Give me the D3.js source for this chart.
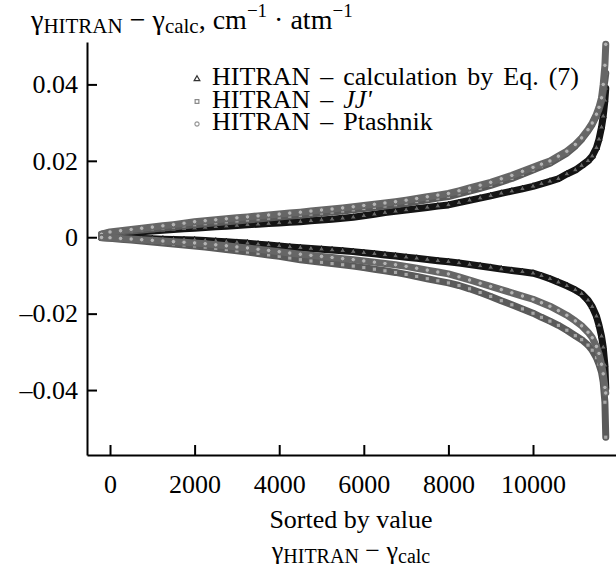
<!DOCTYPE html>
<html>
<head>
<meta charset="utf-8">
<script src="https://cdn.jsdelivr.net/npm/d3@7"></script>
<style>
body { margin: 0; background: #fff; }
text { font-family: "Liberation Serif", "Times New Roman", serif; fill: #000; }
</style>
</head>
<body>
<div id="chart-area"></div>
<script>
// ---- data (sorted differences, cm-1 atm-1) ----
var sortIdx = [-200, 0, 250, 500, 750, 1000, 1250, 1500, 1750, 2000,
  2250, 2500, 2750, 3000, 3250, 3500, 3750, 4000,
  4250, 4500, 4750, 5000, 5250, 5500, 5750, 6000,
  6250, 6500, 6750, 7000, 7250, 7500, 7750, 8000,
  8250, 8500, 8750, 9000, 9250, 9500, 9750, 10000,
  10200, 10400, 10600, 10800, 11000,
  11150, 11300, 11400, 11500, 11560, 11620, 11660, 11700, 11720];

var calcUpper = [0.00052, 0.00079, 0.00099, 0.00120, 0.00141, 0.00162, 0.00181, 0.00202, 0.00220, 0.00238,
  0.00256, 0.00275, 0.00290, 0.00306, 0.00325, 0.00340, 0.00356, 0.00374,
  0.00390, 0.00406, 0.00429, 0.00450, 0.00471, 0.00495, 0.00523, 0.00560,
  0.00602, 0.00644, 0.00678, 0.00712, 0.00746, 0.00780, 0.00814, 0.00845,
  0.00905, 0.00966, 0.01023, 0.01083, 0.01149, 0.01206, 0.01267, 0.01332,
  0.01398, 0.01463, 0.01531, 0.01654, 0.01759,
  0.01874, 0.01999, 0.02122, 0.02342, 0.02565, 0.02879, 0.03167, 0.03585, 0.03900];
var calcLower = [-0.00005, -0.00013, -0.00021, -0.00026, -0.00034, -0.00042, -0.00050, -0.00058, -0.00065, -0.00073,
  -0.00086, -0.00102, -0.00120, -0.00136, -0.00154, -0.00181, -0.00204, -0.00228,
  -0.00254, -0.00275, -0.00296, -0.00314, -0.00335, -0.00353, -0.00377, -0.00406,
  -0.00434, -0.00463, -0.00492, -0.00523, -0.00552, -0.00584, -0.00615, -0.00641,
  -0.00675, -0.00714, -0.00751, -0.00790, -0.00835, -0.00869, -0.00905, -0.00942,
  -0.01008, -0.01089, -0.01178, -0.01272, -0.01379,
  -0.01479, -0.01649, -0.01819, -0.02067, -0.02303, -0.02591, -0.02880, -0.03350, -0.03950];

var jjUpper = [0.00078, 0.00118, 0.00141, 0.00165, 0.00191, 0.00215, 0.00243, 0.00270, 0.00298, 0.00327,
  0.00353, 0.00377, 0.00403, 0.00427, 0.00453, 0.00479, 0.00502, 0.00526,
  0.00552, 0.00576, 0.00605, 0.00633, 0.00659, 0.00688, 0.00717, 0.00751,
  0.00782, 0.00817, 0.00851, 0.00890, 0.00934, 0.00979, 0.01023, 0.01065,
  0.01136, 0.01209, 0.01282, 0.01358, 0.01450, 0.01539, 0.01649, 0.01759,
  0.01848, 0.01937, 0.02067, 0.02201, 0.02389,
  0.02565, 0.02784, 0.02957, 0.03182, 0.03339, 0.03559, 0.03821, 0.04109, 0.04290];
var jjLower = [-0.00013, -0.00026, -0.00050, -0.00073, -0.00097, -0.00123, -0.00149, -0.00175, -0.00204, -0.00230,
  -0.00259, -0.00290, -0.00324, -0.00356, -0.00390, -0.00427, -0.00463, -0.00500,
  -0.00544, -0.00589, -0.00623, -0.00657, -0.00691, -0.00722, -0.00756, -0.00796,
  -0.00837, -0.00879, -0.00921, -0.00973, -0.01028, -0.01086, -0.01141, -0.01196,
  -0.01264, -0.01350, -0.01447, -0.01549, -0.01662, -0.01769, -0.01876, -0.01989,
  -0.02096, -0.02196, -0.02306, -0.02434, -0.02578,
  -0.02682, -0.02824, -0.02957, -0.03153, -0.03324, -0.03533, -0.03795, -0.04318, -0.05234];

var ptUpper = [0.00078, 0.00138, 0.00171, 0.00205, 0.00236, 0.00265, 0.00298, 0.00330, 0.00368, 0.00407,
  0.00433, 0.00457, 0.00483, 0.00507, 0.00533, 0.00559, 0.00582, 0.00606,
  0.00632, 0.00656, 0.00685, 0.00713, 0.00739, 0.00768, 0.00797, 0.00831,
  0.00862, 0.00897, 0.00931, 0.00970, 0.01014, 0.01059, 0.01103, 0.01145,
  0.01216, 0.01289, 0.01362, 0.01438, 0.01530, 0.01619, 0.01724, 0.01829,
  0.01913, 0.01997, 0.02122, 0.02251, 0.02429,
  0.02600, 0.02814, 0.02990, 0.03220, 0.03400, 0.03650, 0.04000, 0.04500, 0.05050];
var ptLower = [-0.00005, -0.00013, -0.00031, -0.00047, -0.00065, -0.00081, -0.00099, -0.00115, -0.00131, -0.00149,
  -0.00170, -0.00199, -0.00225, -0.00254, -0.00280, -0.00314, -0.00345, -0.00379,
  -0.00413, -0.00445, -0.00474, -0.00502, -0.00531, -0.00560, -0.00586, -0.00620,
  -0.00652, -0.00686, -0.00720, -0.00762, -0.00811, -0.00861, -0.00911, -0.00960,
  -0.01036, -0.01120, -0.01204, -0.01288, -0.01371, -0.01455, -0.01539, -0.01623,
  -0.01714, -0.01806, -0.01921, -0.02041, -0.02190,
  -0.02319, -0.02486, -0.02630, -0.02858, -0.03041, -0.03324, -0.03575, -0.03931, -0.04077];

var xTicks = [0, 2000, 4000, 6000, 8000, 10000];
var xTickLabels = ["0", "2000", "4000", "6000", "8000", "10000"];
var yTicks = [-0.04, -0.02, 0, 0.02, 0.04];
var yTickLabels = ["\u20130.04", "\u20130.02", "0", "0.02", "0.04"];

//------------------------------------------------------------
var W = 616, H = 572;
var FONT = 26;
var SERIF = "'Liberation Serif', 'Times New Roman', serif";

var svg = d3.select("#chart-area")
    .append("svg")
    .attr("width", W)
    .attr("height", H)
    .attr("font-family", SERIF);

var x = d3.scaleLinear().domain([-544, 11962]).range([87, 616]);
var y = d3.scaleLinear().domain([-0.0570, 0.0511]).range([455, 42]);

var series = [
    { key: "calc", upper: calcUpper, lower: calcLower, color: "#141414", fill: "#6a6a6a", symbol: d3.symbolTriangle, size: 16 },
    { key: "jj",   upper: jjUpper,   lower: jjLower,   color: "#5a5a5a", fill: "#a8a8a8", symbol: d3.symbolSquare,   size: 18 },
    { key: "pt",   upper: ptUpper,   lower: ptLower,   color: "#666666", fill: "#b4b4b4", symbol: d3.symbolCircle,   size: 16 }
];

var band = d3.line()
    .x(function(d){ return x(d.i); })
    .y(function(d){ return y(d.v); });

var plot = svg.append("g").attr("class", "plot");

series.forEach(function(s){
    [s.upper, s.lower].forEach(function(vals){
        var pts = sortIdx.map(function(idx, k){ return { i: idx, v: vals[k] }; });
        var grp = plot.append("g").attr("class", "series " + s.key);
        grp.append("path")
            .datum(pts)
            .attr("d", band)
            .attr("fill", "none")
            .attr("stroke", s.color)
            .attr("stroke-width", 7)
            .attr("stroke-linejoin", "round")
            .attr("stroke-linecap", "round");
        grp.selectAll("path.pt")
            .data(pts)
            .enter()
            .append("path")
            .attr("class", "pt")
            .attr("d", d3.symbol().type(s.symbol).size(s.size))
            .attr("transform", function(d){ return "translate(" + x(d.i) + "," + y(d.v) + ")"; })
            .attr("fill", s.fill)
            .attr("stroke", s.color)
            .attr("stroke-width", 1);
    });
});

// axes
var xAxis = svg.append("g")
    .attr("class", "x axis")
    .attr("transform", "translate(0,455)")
    .call(d3.axisBottom(x)
        .tickValues(xTicks)
        .tickFormat(function(d, i){ return xTickLabels[i]; })
        .tickSizeInner(-10)
        .tickSizeOuter(0)
        .tickPadding(20));

var yAxis = svg.append("g")
    .attr("class", "y axis")
    .attr("transform", "translate(87,0)")
    .call(d3.axisLeft(y)
        .tickValues(yTicks)
        .tickFormat(function(d, i){ return yTickLabels[i]; })
        .tickSizeInner(-10)
        .tickSizeOuter(0)
        .tickPadding(9));

svg.selectAll(".axis")
    .attr("font-family", SERIF)
    .attr("font-size", FONT);
svg.selectAll(".axis path, .axis line")
    .attr("stroke", "#000")
    .attr("stroke-width", 2);
svg.selectAll(".axis text").attr("fill", "#000");

// y-axis title
var yt = svg.append("text")
    .attr("x", 31)
    .attr("y", 29)
    .attr("font-size", 28);
yt.append("tspan").text("\u03b3");
yt.append("tspan").attr("font-size", 21).attr("dy", 4).text("HITRAN");
yt.append("tspan").attr("dy", -4).text(" \u2212 \u03b3");
yt.append("tspan").attr("font-size", 21).attr("dy", 4).text("calc");
yt.append("tspan").attr("dy", -4).text(", cm");
yt.append("tspan").attr("font-size", 19).attr("dy", -12).text("\u22121");
yt.append("tspan").attr("dy", 12).text(" \u00b7 atm");
yt.append("tspan").attr("font-size", 19).attr("dy", -12).text("\u22121");

// x-axis titles
svg.append("text")
    .attr("x", 351)
    .attr("y", 528)
    .attr("text-anchor", "middle")
    .attr("font-size", FONT)
    .text("Sorted by value");

var xt = svg.append("text")
    .attr("x", 351)
    .attr("y", 559)
    .attr("text-anchor", "middle")
    .attr("font-size", FONT);
xt.append("tspan").text("\u03b3");
xt.append("tspan").attr("font-size", 20).attr("dy", 4).text("HITRAN");
xt.append("tspan").attr("dy", -4).text(" \u2212 \u03b3");
xt.append("tspan").attr("font-size", 20).attr("dy", 4).text("calc");

// legend
var legend = svg.append("g").attr("class", "legend");
var legendRows = [
    { s: series[0], parts: [["HITRAN \u2013 calculation by Eq. (7)", false]], stroke: "#333" },
    { s: series[1], parts: [["HITRAN \u2013 ", false], ["JJ'", true]], stroke: "#8a8a8a" },
    { s: series[2], parts: [["HITRAN \u2013 Ptashnik", false]], stroke: "#999" }
];
legendRows.forEach(function(r, k){
    var by = 85 + k * 22.5;
    legend.append("path")
        .attr("d", d3.symbol().type(r.s.symbol).size(14))
        .attr("transform", "translate(197," + (by - 6) + ")")
        .attr("fill", "#fff")
        .attr("stroke", r.stroke)
        .attr("stroke-width", 1.2);
    var t = legend.append("text")
        .attr("x", 212)
        .attr("y", by)
        .attr("font-size", FONT)
        .attr("word-spacing", 3.5);
    r.parts.forEach(function(p){
        t.append("tspan").attr("font-style", p[1] ? "italic" : "normal").text(p[0]);
    });
});
</script>
</body>
</html>
